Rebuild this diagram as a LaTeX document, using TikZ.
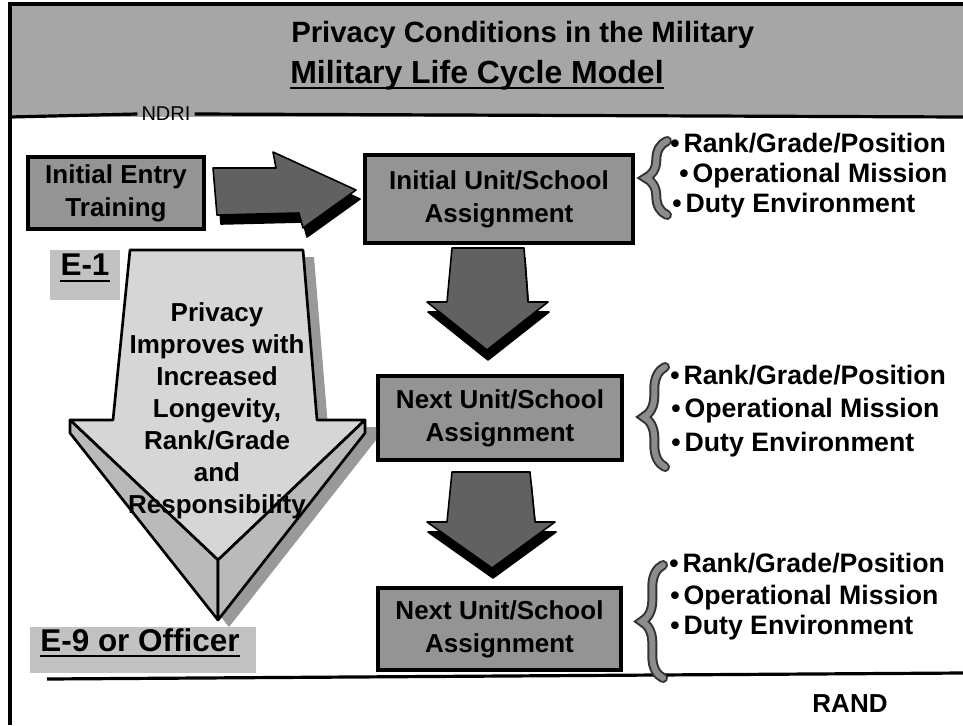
\documentclass[tikz,border=0pt]{standalone}
\usepackage{fontspec}
\setmainfont{Liberation Sans}
\usetikzlibrary{decorations.pathreplacing,calc}
\tikzset{
  rule/.style={line width=2.4pt, black},
  hdr/.style={anchor=west, inner sep=0pt, text height=0.72em, text depth=0pt},
  unitbox/.style={draw=black, line width=2.8pt, fill=black!42, align=center, inner sep=0pt,
    font=\fontsize{19.5}{25}\selectfont\bfseries},
  lvltext/.style={inner sep=0pt, text height=0.72em, text depth=0pt,
    font=\fontsize{23.6}{28}\selectfont\bfseries},
  item/.style={anchor=west, inner sep=0pt, text height=0.72em, text depth=0pt,
    font=\fontsize{20}{24}\selectfont\bfseries},
  darkface/.style={fill=black!62, draw=black, line width=1.2pt, line join=round},
  darkext/.style={fill=black, draw=black, line width=1.2pt, line join=round},
  lightface/.style={fill=black!16, draw=black, line width=2pt, line join=round},
  bevel/.style={fill=black!27, draw=black, line width=2pt, line join=round},
  bigshadow/.style={fill=black!40},
  bracedark/.style={decorate, decoration={brace, amplitude=16pt}, line width=7.5pt, black!80, line cap=round},
  bracelight/.style={decorate, decoration={brace, amplitude=16pt}, line width=4.5pt, black!45, line cap=round},
}
\newcommand{\bul}{\textbullet\hspace{0.15em}}
\begin{document}
\begin{tikzpicture}[x=0.75pt,y=-0.75pt]
\useasboundingbox (0,0) rectangle (963,725);
\fill[white] (0,0) rectangle (963,725);

% ---------- banner ----------
\fill[black!35] (10,4) rectangle (963,117);
\draw[rule] (963,4) -- (10,4) -- (10,117);
\node[hdr, font=\fontsize{22}{26}\selectfont\bfseries] (t1) at (291,38) {Privacy Conditions in the Military};
\node[hdr, font=\fontsize{24}{28}\selectfont\bfseries] (t2) at (290,79) {Military Life Cycle Model};
\draw[line width=1.8pt] ($(t2.south west)+(0,4)$) -- ($(t2.south east)+(0,4)$);
\node[font=\fontsize{15}{18}\selectfont, inner sep=3pt] (ndri) at (166,114) {NDRI};
\draw[rule] (10,117) -- (ndri.west);
\draw[rule] (ndri.east) -- (963,117);

% ---------- frame ----------
\coordinate (lt) at (10,117);
\coordinate (lb) at (10,725);
\draw[rule] (lt) -- (lb);
\coordinate (bl) at (47,679);
\coordinate (br) at (963,673);
\draw[rule] (bl) -- (br);
\node[font=\fontsize{19.5}{24}\selectfont\bfseries, inner sep=0pt] (rand) at (850,704) {RAND};

% ---------- boxes ----------
\node[unitbox, minimum width=132pt, minimum height=54pt] (iet) at (116,193) {Initial Entry\\Training};
\node[unitbox, minimum width=201pt, minimum height=66pt] (u1) at (499,199) {Initial Unit/School\\Assignment};
\node[unitbox, minimum width=183pt, minimum height=63pt] (u2) at (500,418) {Next Unit/School\\Assignment};
\node[unitbox, minimum width=182pt, minimum height=61.5pt] (u3) at (499.5,629) {Next Unit/School\\Assignment};

% ---------- dark right arrow ----------
\draw[darkext, shift={(4,9)}] (213,168) -- (276,168) -- (273,152) -- (356,190) -- (303,228) -- (299,213) -- (217,215) -- cycle;
\draw[darkface] (213,168) -- (276,168) -- (273,152) -- (356,190) -- (303,228) -- (299,213) -- (217,215) -- cycle;

% ---------- dark down arrows ----------
\draw[darkext, shift={(1,10)}] (452,248) -- (524,248) -- (528,302) -- (548,302) -- (487,350) -- (427,302) -- (447,302) -- cycle;
\draw[darkface] (452,248) -- (524,248) -- (528,302) -- (548,302) -- (487,350) -- (427,302) -- (447,302) -- cycle;
\draw[darkext, shift={(1,10)}] (452,472) -- (530,472) -- (535,522) -- (555,522) -- (492,568) -- (427,522) -- (447,522) -- cycle;
\draw[darkface] (452,472) -- (530,472) -- (535,522) -- (555,522) -- (492,568) -- (427,522) -- (447,522) -- cycle;

% ---------- big light arrow ----------
\fill[bigshadow, shift={(11,7)}] (130,250) -- (303,250) -- (317,420) -- (365,420) -- (365,433) -- (218,620) -- (70,433) -- (70,420) -- (113,420) -- cycle;
\draw[lightface] (130,250) -- (303,250) -- (317,420) -- (365,420) -- (218,560) -- (70,420) -- (113,420) -- cycle;
\draw[bevel] (70,420) -- (218,560) -- (218,620) -- (70,433) -- cycle;
\draw[bevel] (365,420) -- (218,560) -- (218,620) -- (365,433) -- cycle;
\node[align=center, inner sep=0pt, font=\fontsize{19.5}{24}\selectfont\bfseries] (big) at (217,411)
  {Privacy\\Improves with\\Increased\\Longevity,\\Rank/Grade\\and\\Responsibility};

% ---------- level labels ----------
\fill[black!24] (50,250) rectangle (120,300);
\node[lvltext] (e1) at (85,271) {E-1};
\draw[line width=1.8pt] ($(e1.south west)+(0,5)$) -- ($(e1.south east)+(0,5)$);
\fill[black!24] (30,627) rectangle (256,673);
\node[lvltext] (e9) at (140,647) {E-9 or Officer};
\draw[line width=1.8pt] ($(e9.south west)+(0,4)$) -- ($(e9.south east)+(0,4)$);

% ---------- braces ----------
\coordinate (b1s) at (667,215); \coordinate (b1e) at (667,141);
\coordinate (b2s) at (665,467); \coordinate (b2e) at (665,367);
\coordinate (b3s) at (663,678); \coordinate (b3e) at (663,565);
\foreach \s/\e in {b1s/b1e, b2s/b2e, b3s/b3e} {
  \draw[bracedark] (\s) -- (\e);
  \draw[bracelight] (\s) -- (\e);
}

% ---------- item lists ----------
\node[item] (r1) at (670,148) {\bul Rank/Grade/Position};
\node[item] (o1) at (679,178) {\bul Operational Mission};
\node[item] (d1) at (672,208) {\bul Duty Environment};
\node[item] (r2) at (670,380) {\bul Rank/Grade/Position};
\node[item] (o2) at (671,413) {\bul Operational Mission};
\node[item] (d2) at (671,447) {\bul Duty Environment};
\node[item] (r3) at (669,568) {\bul Rank/Grade/Position};
\node[item] (o3) at (670,600) {\bul Operational Mission};
\node[item] (d3) at (670,630) {\bul Duty Environment};
\end{tikzpicture}
\end{document}
